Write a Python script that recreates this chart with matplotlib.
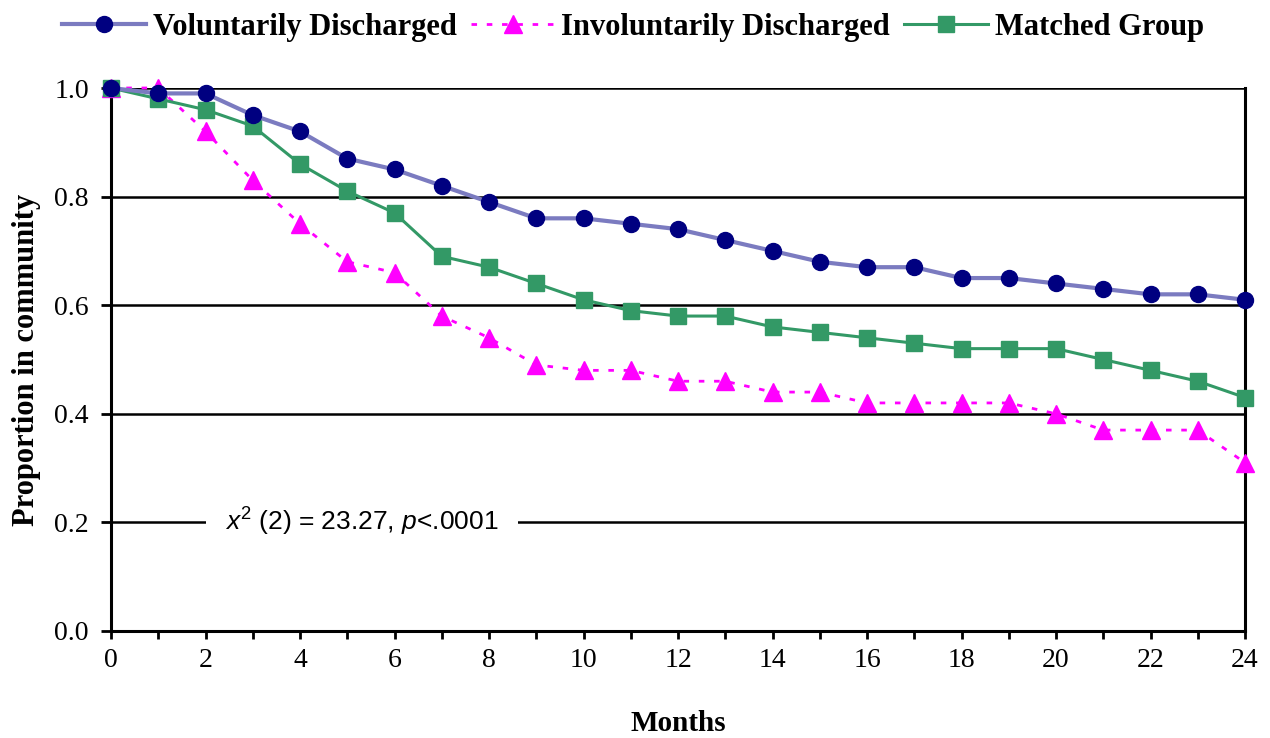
import matplotlib
matplotlib.use("Agg")
import matplotlib.pyplot as plt

months = list(range(25))
voluntary = [1.00, 0.99, 0.99, 0.95, 0.92, 0.87, 0.85, 0.82, 0.79, 0.76, 0.76, 0.75, 0.74,
             0.72, 0.70, 0.68, 0.67, 0.67, 0.65, 0.65, 0.64, 0.63, 0.62, 0.62, 0.61]
involuntary = [1.00, 1.00, 0.92, 0.83, 0.75, 0.68, 0.66, 0.58, 0.54, 0.49, 0.48, 0.48, 0.46,
               0.46, 0.44, 0.44, 0.42, 0.42, 0.42, 0.42, 0.40, 0.37, 0.37, 0.37, 0.31]
matched = [1.00, 0.98, 0.96, 0.93, 0.86, 0.81, 0.77, 0.69, 0.67, 0.64, 0.61, 0.59, 0.58,
           0.58, 0.56, 0.55, 0.54, 0.53, 0.52, 0.52, 0.52, 0.50, 0.48, 0.46, 0.43]
series_names = ["Voluntarily Discharged", "Involuntarily Discharged", "Matched Group"]
x_ticks = list(range(0, 25, 2))
y_ticks = [0.0, 0.2, 0.4, 0.6, 0.8, 1.0]

plt.rcParams['font.family'] = ['Liberation Serif', 'DejaVu Serif']
plt.rcParams['mathtext.fontset'] = 'custom'
plt.rcParams['mathtext.rm'] = 'Liberation Sans'
plt.rcParams['mathtext.it'] = 'Liberation Sans:italic'

fig = plt.figure(figsize=(12.7, 7.38), dpi=100)
ax = fig.add_axes([111/1270, 1-631/738, (1245-111)/1270, (631-88)/738])

ax.plot(months, voluntary, color='#7B7BC0', lw=3, marker='o', ms=11.5,
        mfc='#000080', mec='#000080', label=series_names[0], clip_on=False, zorder=4)
ax.plot(months, involuntary, color='#FF00FF', lw=2, ls=(0, (2, 3.5)), marker='^', ms=12.5,
        mfc='#FF00FF', mec='#FF00FF', label=series_names[1], clip_on=False, zorder=3)
ax.plot(months, matched, color='#339966', lw=2.2, marker='s', ms=11.5,
        mfc='#339966', mec='#339966', label=series_names[2], clip_on=False, zorder=3)

ax.set_xlim(0, 24)
ax.set_ylim(0, 1.0)
ax.set_xticks(months)
ax.set_xticklabels([str(m) if m in x_ticks else '' for m in months])
ax.set_yticks(y_ticks)
ax.set_yticklabels([f"{v:.1f}" for v in y_ticks])
ax.tick_params(axis='both', direction='out', length=6, width=2, labelsize=20, colors='black')
ax.tick_params(axis='x', pad=6)
ax.tick_params(axis='y', length=7, pad=9)

for s in ['left', 'bottom', 'right']:
    ax.spines[s].set_linewidth(2.2)
ax.spines['top'].set_visible(False)
for v in y_ticks[1:]:
    ax.axhline(v, color='black', lw=1.8, zorder=1)

ax.set_xlabel("Months", fontsize=21, fontweight='bold', labelpad=27)
ax.set_ylabel("Proportion in community", fontsize=22, fontweight='bold')
ax.yaxis.set_label_coords(-0.062, 0.5)

ax.text(2.42, 0.2, r"$x^2$ (2) = 23.27, $p$<.0001", fontsize=19, family='Liberation Sans',
        va='center', ha='left', zorder=2,
        bbox=dict(facecolor='white', edgecolor='none', pad=14))

leg = fig.legend(loc='upper center', bbox_to_anchor=(0.4985, 1.02), ncol=3, frameon=False,
                 prop={'family': 'Liberation Serif', 'weight': 'bold', 'size': 22},
                 handlelength=2.75, columnspacing=0.45, handletextpad=0.22)

fig.savefig("out.png", dpi=100)
